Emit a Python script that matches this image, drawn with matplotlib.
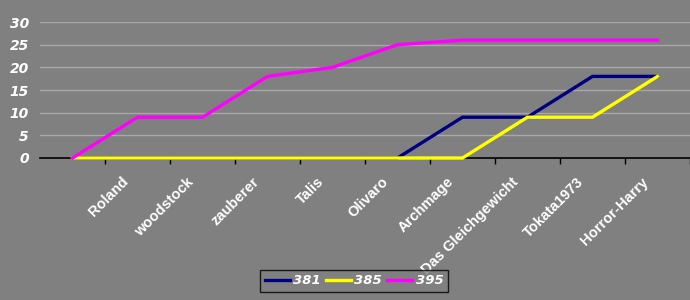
import matplotlib.pyplot as plt
import matplotlib.transforms as mtrans

categories = ["", "Roland", "woodstock", "zauberer", "Talis", "Olivaro",
              "Archmage", "Das Gleichgewicht", "Tokata1973", "Horror-Harry"]
s381 = [0, 0, 0, 0, 0, 0, 9, 9, 18, 18]
s385 = [0, 0, 0, 0, 0, 0, 0, 9, 9, 18]
s395 = [0, 9, 9, 18, 20, 25, 26, 26, 26, 26]
series = [("381", s381, "#000080"), ("385", s385, "#ffff00"), ("395", s395, "#ff00ff")]
yticks = [0, 5, 10, 15, 20, 25, 30]

bg = "#808080"
fig = plt.figure(figsize=(6.9, 3.0), dpi=100, facecolor=bg)
ax = fig.add_axes([40 / 690, 1 - 158 / 300, 650 / 690, 136 / 300])
ax.set_facecolor(bg)

x = list(range(len(categories)))
for name, vals, col in series:
    ax.plot(x, vals, color=col, lw=2.4, label=name, solid_joinstyle="miter",
            zorder=4, clip_on=False)

ax.set_xlim(-0.5, len(categories) - 0.5)
ax.set_ylim(0, 30)
ax.set_yticks(yticks)
ax.set_yticklabels([str(v) for v in yticks], color="white", fontsize=10,
                   fontweight="bold", fontstyle="italic", family="Liberation Sans Narrow")
ax.yaxis.grid(True, color="#a8a8a8", lw=1)
ax.tick_params(axis="y", length=0, pad=8)

# ticks between categories, labels at category centers
ax.set_xticks([i + 0.5 for i in range(len(categories))])
ax.set_xticklabels([])
ax.set_xticks(x, minor=True)
ax.set_xticklabels(categories, minor=True, rotation=45, ha="right", va="top",
                   rotation_mode="default", color="white", fontsize=10.5,
                   fontweight="bold", family="Liberation Sans")
ax.tick_params(axis="x", which="major", length=4, width=1, color="black", direction="out")
ax.tick_params(axis="x", which="minor", length=0, pad=12)

for s in ["top", "right", "left"]:
    ax.spines[s].set_visible(False)
ax.spines["bottom"].set_color("black")
ax.spines["bottom"].set_linewidth(1.2)
ax.spines["bottom"].set_zorder(2)
ax.set_axisbelow(True)

# shift category labels slightly left like the original
offset = mtrans.ScaledTranslation(-6 / 100, 0, fig.dpi_scale_trans)
for lbl in ax.xaxis.get_minorticklabels():
    lbl.set_transform(lbl.get_transform() + offset)

leg = fig.legend(loc="center", bbox_to_anchor=(354 / 690, 1 - 281 / 300), ncol=3,
                 frameon=True, facecolor=bg, edgecolor="black", fancybox=False,
                 handlelength=1.9, columnspacing=0.4, handletextpad=0.25,
                 borderpad=0.35, borderaxespad=0,
                 prop={"family": "Liberation Sans Narrow", "weight": "bold",
                       "style": "italic", "size": 9.5})
leg.get_frame().set_linewidth(1)
for t in leg.get_texts():
    t.set_color("white")

fig.savefig("out.png", dpi=100, facecolor=bg)
